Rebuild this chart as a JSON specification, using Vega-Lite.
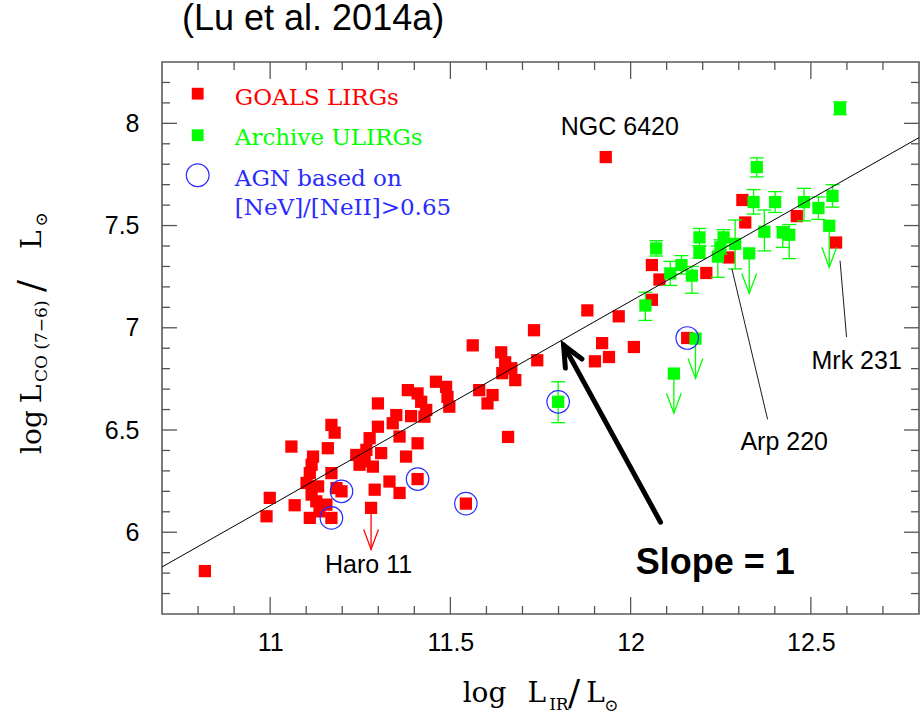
{
  "$schema": "https://vega.github.io/schema/vega-lite/v6.json",
  "width": 757,
  "height": 552,
  "autosize": {"type": "none"},
  "padding": {"left": 162, "top": 62, "right": 1, "bottom": 103},
  "background": "white",
  "config": {"view": {"stroke": "#5a5a5a", "strokeWidth": 1.6}},
  "title": {"text": "(Lu et al. 2014a)", "anchor": "start", "frame": "group", "font": "Liberation Sans", "fontSize": 36, "fontWeight": "normal", "color": "#000000", "dx": 20, "offset": -7, "baseline": "alphabetic"},
  "datasets": {
    "pts": [
      {"s": "GOALS LIRGs", "x": 10.819, "y": 5.810},
      {"s": "GOALS LIRGs", "x": 10.990, "y": 6.078},
      {"s": "GOALS LIRGs", "x": 10.999, "y": 6.168},
      {"s": "GOALS LIRGs", "x": 11.059, "y": 6.419},
      {"s": "GOALS LIRGs", "x": 11.068, "y": 6.132},
      {"s": "GOALS LIRGs", "x": 11.110, "y": 6.070},
      {"s": "GOALS LIRGs", "x": 11.119, "y": 6.370},
      {"s": "GOALS LIRGs", "x": 11.115, "y": 6.330},
      {"s": "GOALS LIRGs", "x": 11.110, "y": 6.289},
      {"s": "GOALS LIRGs", "x": 11.101, "y": 6.241},
      {"s": "GOALS LIRGs", "x": 11.133, "y": 6.224},
      {"s": "GOALS LIRGs", "x": 11.115, "y": 6.184},
      {"s": "GOALS LIRGs", "x": 11.128, "y": 6.151},
      {"s": "GOALS LIRGs", "x": 11.156, "y": 6.135},
      {"s": "GOALS LIRGs", "x": 11.137, "y": 6.102},
      {"s": "GOALS LIRGs", "x": 11.170, "y": 6.070, "agn": true},
      {"s": "GOALS LIRGs", "x": 11.170, "y": 6.525},
      {"s": "GOALS LIRGs", "x": 11.179, "y": 6.487},
      {"s": "GOALS LIRGs", "x": 11.160, "y": 6.411},
      {"s": "GOALS LIRGs", "x": 11.170, "y": 6.289},
      {"s": "GOALS LIRGs", "x": 11.184, "y": 6.216},
      {"s": "GOALS LIRGs", "x": 11.198, "y": 6.200, "agn": true},
      {"s": "GOALS LIRGs", "x": 11.239, "y": 6.378},
      {"s": "GOALS LIRGs", "x": 11.267, "y": 6.403},
      {"s": "GOALS LIRGs", "x": 11.262, "y": 6.346},
      {"s": "GOALS LIRGs", "x": 11.248, "y": 6.330},
      {"s": "GOALS LIRGs", "x": 11.285, "y": 6.321},
      {"s": "GOALS LIRGs", "x": 11.276, "y": 6.460},
      {"s": "GOALS LIRGs", "x": 11.290, "y": 6.208},
      {"s": "GOALS LIRGs", "x": 11.280, "y": 6.119, "lim": 5.916},
      {"s": "GOALS LIRGs", "x": 11.299, "y": 6.630},
      {"s": "GOALS LIRGs", "x": 11.299, "y": 6.516},
      {"s": "GOALS LIRGs", "x": 11.308, "y": 6.387},
      {"s": "GOALS LIRGs", "x": 11.331, "y": 6.248},
      {"s": "GOALS LIRGs", "x": 11.350, "y": 6.573},
      {"s": "GOALS LIRGs", "x": 11.340, "y": 6.533},
      {"s": "GOALS LIRGs", "x": 11.359, "y": 6.468},
      {"s": "GOALS LIRGs", "x": 11.359, "y": 6.192},
      {"s": "GOALS LIRGs", "x": 11.382, "y": 6.695},
      {"s": "GOALS LIRGs", "x": 11.391, "y": 6.568},
      {"s": "GOALS LIRGs", "x": 11.377, "y": 6.370},
      {"s": "GOALS LIRGs", "x": 11.409, "y": 6.679},
      {"s": "GOALS LIRGs", "x": 11.409, "y": 6.435},
      {"s": "GOALS LIRGs", "x": 11.409, "y": 6.260, "agn": true},
      {"s": "GOALS LIRGs", "x": 11.419, "y": 6.638},
      {"s": "GOALS LIRGs", "x": 11.433, "y": 6.598},
      {"s": "GOALS LIRGs", "x": 11.428, "y": 6.565},
      {"s": "GOALS LIRGs", "x": 11.460, "y": 6.736},
      {"s": "GOALS LIRGs", "x": 11.488, "y": 6.711},
      {"s": "GOALS LIRGs", "x": 11.492, "y": 6.662},
      {"s": "GOALS LIRGs", "x": 11.497, "y": 6.614},
      {"s": "GOALS LIRGs", "x": 11.543, "y": 6.140, "agn": true},
      {"s": "GOALS LIRGs", "x": 11.562, "y": 6.914},
      {"s": "GOALS LIRGs", "x": 11.580, "y": 6.695},
      {"s": "GOALS LIRGs", "x": 11.617, "y": 6.671},
      {"s": "GOALS LIRGs", "x": 11.603, "y": 6.630},
      {"s": "GOALS LIRGs", "x": 11.641, "y": 6.880},
      {"s": "GOALS LIRGs", "x": 11.652, "y": 6.831},
      {"s": "GOALS LIRGs", "x": 11.644, "y": 6.778},
      {"s": "GOALS LIRGs", "x": 11.669, "y": 6.802},
      {"s": "GOALS LIRGs", "x": 11.680, "y": 6.744},
      {"s": "GOALS LIRGs", "x": 11.660, "y": 6.466},
      {"s": "GOALS LIRGs", "x": 11.732, "y": 6.988},
      {"s": "GOALS LIRGs", "x": 11.741, "y": 6.841},
      {"s": "GOALS LIRGs", "x": 11.880, "y": 7.085},
      {"s": "GOALS LIRGs", "x": 11.921, "y": 6.925},
      {"s": "GOALS LIRGs", "x": 11.901, "y": 6.836},
      {"s": "GOALS LIRGs", "x": 11.940, "y": 6.857},
      {"s": "GOALS LIRGs", "x": 11.931, "y": 7.835},
      {"s": "GOALS LIRGs", "x": 11.967, "y": 7.056},
      {"s": "GOALS LIRGs", "x": 12.009, "y": 6.906},
      {"s": "GOALS LIRGs", "x": 12.059, "y": 7.137},
      {"s": "GOALS LIRGs", "x": 12.059, "y": 7.307},
      {"s": "GOALS LIRGs", "x": 12.080, "y": 7.236},
      {"s": "GOALS LIRGs", "x": 12.157, "y": 6.950, "agn": true},
      {"s": "GOALS LIRGs", "x": 12.210, "y": 7.268},
      {"s": "GOALS LIRGs", "x": 12.272, "y": 7.344},
      {"s": "GOALS LIRGs", "x": 12.318, "y": 7.515},
      {"s": "GOALS LIRGs", "x": 12.310, "y": 7.625},
      {"s": "GOALS LIRGs", "x": 12.461, "y": 7.546},
      {"s": "GOALS LIRGs", "x": 12.570, "y": 7.417},
      {"s": "Archive ULIRGs", "x": 12.581, "y": 8.074, "lo": 8.042, "hi": 8.105},
      {"s": "Archive ULIRGs", "x": 12.350, "y": 7.786, "lo": 7.738, "hi": 7.831},
      {"s": "Archive ULIRGs", "x": 12.341, "y": 7.615, "lo": 7.556, "hi": 7.676},
      {"s": "Archive ULIRGs", "x": 12.401, "y": 7.615, "lo": 7.564, "hi": 7.666},
      {"s": "Archive ULIRGs", "x": 12.481, "y": 7.615, "lo": 7.523, "hi": 7.682},
      {"s": "Archive ULIRGs", "x": 12.560, "y": 7.645, "lo": 7.590, "hi": 7.700},
      {"s": "Archive ULIRGs", "x": 12.551, "y": 7.499, "lim": 7.296},
      {"s": "Archive ULIRGs", "x": 12.521, "y": 7.586, "lo": 7.530, "hi": 7.640},
      {"s": "Archive ULIRGs", "x": 12.371, "y": 7.470, "lo": 7.376, "hi": 7.576},
      {"s": "Archive ULIRGs", "x": 12.422, "y": 7.466, "lo": 7.393, "hi": 7.494},
      {"s": "Archive ULIRGs", "x": 12.440, "y": 7.455, "lo": 7.338, "hi": 7.505},
      {"s": "Archive ULIRGs", "x": 12.290, "y": 7.410, "lo": 7.288, "hi": 7.527},
      {"s": "Archive ULIRGs", "x": 12.258, "y": 7.442, "lo": 7.400, "hi": 7.480},
      {"s": "Archive ULIRGs", "x": 12.191, "y": 7.442, "lo": 7.401, "hi": 7.486},
      {"s": "Archive ULIRGs", "x": 12.191, "y": 7.369, "lo": 7.340, "hi": 7.400},
      {"s": "Archive ULIRGs", "x": 12.249, "y": 7.393, "lo": 7.360, "hi": 7.430},
      {"s": "Archive ULIRGs", "x": 12.242, "y": 7.348, "lo": 7.247, "hi": 7.400},
      {"s": "Archive ULIRGs", "x": 12.329, "y": 7.364, "lim": 7.168},
      {"s": "Archive ULIRGs", "x": 12.141, "y": 7.307, "lo": 7.263, "hi": 7.353},
      {"s": "Archive ULIRGs", "x": 12.110, "y": 7.266, "lo": 7.207, "hi": 7.325},
      {"s": "Archive ULIRGs", "x": 12.170, "y": 7.255, "lo": 7.169, "hi": 7.300},
      {"s": "Archive ULIRGs", "x": 12.071, "y": 7.388, "lo": 7.351, "hi": 7.426},
      {"s": "Archive ULIRGs", "x": 12.041, "y": 7.109, "lo": 7.036, "hi": 7.174},
      {"s": "Archive ULIRGs", "x": 12.180, "y": 6.947, "lim": 6.752},
      {"s": "Archive ULIRGs", "x": 12.120, "y": 6.776, "lim": 6.582},
      {"s": "Archive ULIRGs", "x": 11.799, "y": 6.638, "lo": 6.536, "hi": 6.736, "agn": true}
    ],
    "xt": [
      {"v": 10.8, "k": "minor"}, {"v": 10.9, "k": "minor"}, {"v": 11.0, "k": "major"}, {"v": 11.1, "k": "minor"},
      {"v": 11.2, "k": "minor"}, {"v": 11.3, "k": "minor"}, {"v": 11.4, "k": "minor"}, {"v": 11.5, "k": "major"},
      {"v": 11.6, "k": "minor"}, {"v": 11.7, "k": "minor"}, {"v": 11.8, "k": "minor"}, {"v": 11.9, "k": "minor"},
      {"v": 12.0, "k": "major"}, {"v": 12.1, "k": "minor"}, {"v": 12.2, "k": "minor"}, {"v": 12.3, "k": "minor"},
      {"v": 12.4, "k": "minor"}, {"v": 12.5, "k": "major"}, {"v": 12.6, "k": "minor"}, {"v": 12.7, "k": "minor"}
    ],
    "yt": [
      {"v": 5.7, "k": "minor"}, {"v": 5.8, "k": "minor"}, {"v": 5.9, "k": "minor"}, {"v": 6.0, "k": "major"},
      {"v": 6.1, "k": "minor"}, {"v": 6.2, "k": "minor"}, {"v": 6.3, "k": "minor"}, {"v": 6.4, "k": "minor"},
      {"v": 6.5, "k": "major"}, {"v": 6.6, "k": "minor"}, {"v": 6.7, "k": "minor"}, {"v": 6.8, "k": "minor"},
      {"v": 6.9, "k": "minor"}, {"v": 7.0, "k": "major"}, {"v": 7.1, "k": "minor"}, {"v": 7.2, "k": "minor"},
      {"v": 7.3, "k": "minor"}, {"v": 7.4, "k": "minor"}, {"v": 7.5, "k": "major"}, {"v": 7.6, "k": "minor"},
      {"v": 7.7, "k": "minor"}, {"v": 7.8, "k": "minor"}, {"v": 7.9, "k": "minor"}, {"v": 8.0, "k": "major"},
      {"v": 8.1, "k": "minor"}, {"v": 8.2, "k": "minor"}
    ],
    "fit": [{"x": 10.7, "y": 5.83, "x2": 12.8, "y2": 7.93}],
    "leaders": [
      {"x": 12.281, "y": 7.288, "x2": 12.380, "y2": 6.552},
      {"x": 12.581, "y": 7.328, "x2": 12.599, "y2": 6.955}
    ],
    "names": [
      {"t": "NGC 6420", "x": 11.970, "y": 7.945},
      {"t": "Mrk 231", "x": 12.627, "y": 6.80},
      {"t": "Arp 220", "x": 12.426, "y": 6.40},
      {"t": "Haro 11", "x": 11.273, "y": 5.802}
    ],
    "slope": [{"t": "Slope = 1", "x": 12.235, "y": 5.794}],
    "arrow": [{"x": 12.083, "y": 6.049, "x2": 11.814, "y2": 6.915}],
    "legsym": [
      {"k": "GOALS LIRGs", "x": 10.799, "y": 8.145},
      {"k": "Archive ULIRGs", "x": 10.799, "y": 7.942}
    ],
    "legcirc": [{"x": 10.799, "y": 7.746}],
    "legtext": [
      {"t": "GOALS LIRGs", "k": "GOALS LIRGs", "x": 10.902, "y": 8.092},
      {"t": "Archive ULIRGs", "k": "Archive ULIRGs", "x": 10.902, "y": 7.892},
      {"t": "AGN based on", "k": "AGN", "x": 10.902, "y": 7.694},
      {"t": "[NeV]/[NeII]>0.65", "k": "AGN", "x": 10.902, "y": 7.552}
    ],
    "xtitle": [
      {"t": "log", "x": 11.534, "y": 5.169},
      {"t": "L", "x": 11.714, "y": 5.169},
      {"t": "L", "x": 11.877, "y": 5.169}
    ],
    "xslash": [{"t": "/", "x": 11.826, "y": 5.155}],
    "xtitlesub": [
      {"t": "IR", "x": 11.774, "y": 5.130},
      {"t": "⊙", "x": 11.927, "y": 5.125}
    ],
    "ytitle": [
      {"t": "log", "x": 10.363, "y": 6.383},
      {"t": "L", "x": 10.363, "y": 6.631},
      {"t": "L", "x": 10.363, "y": 7.385}
    ],
    "yslash": [{"t": "/", "x": 10.370, "y": 7.175}],
    "ytitlesub": [
      {"t": "CO (7−6)", "x": 10.381, "y": 6.735},
      {"t": "⊙", "x": 10.381, "y": 7.495}
    ]
  },
  "layer": [
    {
      "data": {"name": "pts"},
      "transform": [{"filter": "datum.s == 'GOALS LIRGs'"}],
      "mark": {"type": "point", "shape": "square", "size": 150, "filled": true, "fill": "#ff0000", "opacity": 1, "strokeWidth": 0},
      "encoding": {
        "x": {"field": "x", "type": "quantitative", "scale": {"domain": [10.7, 12.8], "nice": false, "zero": false},
          "axis": {"orient": "bottom", "title": null, "values": [11, 11.5, 12, 12.5],
            "format": "~g", "labelOverlap": false, "labelFlush": false, "labelBound": false, "grid": false, "domain": false,
            "ticks": true, "tickSize": 8, "offset": -8, "tickOpacity": 0,
            "labelFont": "Liberation Sans", "labelFontSize": 25, "labelColor": "#000000", "labelPadding": 16}},
        "y": {"field": "y", "type": "quantitative", "scale": {"domain": [5.6, 8.3], "nice": false, "zero": false},
          "axis": {"orient": "left", "title": null, "values": [6, 6.5, 7, 7.5, 8],
            "format": "~g", "labelOverlap": false, "labelFlush": false, "labelBound": false, "grid": false, "domain": false,
            "ticks": true, "tickSize": 8, "offset": -8, "tickOpacity": 0,
            "labelFont": "Liberation Sans", "labelFontSize": 25, "labelColor": "#000000", "labelPadding": 23}}
      }
    },
    {
      "data": {"name": "xt"},
      "transform": [{"filter": "datum.k == 'minor'"}],
      "mark": {"type": "point", "shape": "M0,0L0,-1", "size": 256, "filled": false, "stroke": "#555555", "strokeWidth": 1.3, "opacity": 1},
      "encoding": {
        "x": {"field": "v", "type": "quantitative", "scale": {"domain": [10.7, 12.8], "nice": false, "zero": false}},
        "y": {"datum": 5.6, "type": "quantitative", "scale": {"domain": [5.6, 8.3], "nice": false, "zero": false}}
      }
    },
    {
      "data": {"name": "xt"},
      "transform": [{"filter": "datum.k == 'major'"}],
      "mark": {"type": "point", "shape": "M0,0L0,-1", "size": 1156, "filled": false, "stroke": "#555555", "strokeWidth": 1.3, "opacity": 1},
      "encoding": {
        "x": {"field": "v", "type": "quantitative", "scale": {"domain": [10.7, 12.8], "nice": false, "zero": false}},
        "y": {"datum": 5.6, "type": "quantitative", "scale": {"domain": [5.6, 8.3], "nice": false, "zero": false}}
      }
    },
    {
      "data": {"name": "xt"},
      "transform": [{"filter": "datum.k == 'minor'"}],
      "mark": {"type": "point", "shape": "M0,0L0,1", "size": 256, "filled": false, "stroke": "#555555", "strokeWidth": 1.3, "opacity": 1},
      "encoding": {
        "x": {"field": "v", "type": "quantitative", "scale": {"domain": [10.7, 12.8], "nice": false, "zero": false}},
        "y": {"datum": 8.3, "type": "quantitative", "scale": {"domain": [5.6, 8.3], "nice": false, "zero": false}}
      }
    },
    {
      "data": {"name": "xt"},
      "transform": [{"filter": "datum.k == 'major'"}],
      "mark": {"type": "point", "shape": "M0,0L0,1", "size": 1156, "filled": false, "stroke": "#555555", "strokeWidth": 1.3, "opacity": 1},
      "encoding": {
        "x": {"field": "v", "type": "quantitative", "scale": {"domain": [10.7, 12.8], "nice": false, "zero": false}},
        "y": {"datum": 8.3, "type": "quantitative", "scale": {"domain": [5.6, 8.3], "nice": false, "zero": false}}
      }
    },
    {
      "data": {"name": "yt"},
      "transform": [{"filter": "datum.k == 'minor'"}],
      "mark": {"type": "point", "shape": "M0,0L1,0", "size": 256, "filled": false, "stroke": "#555555", "strokeWidth": 1.3, "opacity": 1},
      "encoding": {
        "x": {"datum": 10.7, "type": "quantitative", "scale": {"domain": [10.7, 12.8], "nice": false, "zero": false}},
        "y": {"field": "v", "type": "quantitative", "scale": {"domain": [5.6, 8.3], "nice": false, "zero": false}}
      }
    },
    {
      "data": {"name": "yt"},
      "transform": [{"filter": "datum.k == 'major'"}],
      "mark": {"type": "point", "shape": "M0,0L1,0", "size": 900, "filled": false, "stroke": "#555555", "strokeWidth": 1.3, "opacity": 1},
      "encoding": {
        "x": {"datum": 10.7, "type": "quantitative", "scale": {"domain": [10.7, 12.8], "nice": false, "zero": false}},
        "y": {"field": "v", "type": "quantitative", "scale": {"domain": [5.6, 8.3], "nice": false, "zero": false}}
      }
    },
    {
      "data": {"name": "yt"},
      "transform": [{"filter": "datum.k == 'minor'"}],
      "mark": {"type": "point", "shape": "M0,0L-1,0", "size": 256, "filled": false, "stroke": "#555555", "strokeWidth": 1.3, "opacity": 1},
      "encoding": {
        "x": {"datum": 12.8, "type": "quantitative", "scale": {"domain": [10.7, 12.8], "nice": false, "zero": false}},
        "y": {"field": "v", "type": "quantitative", "scale": {"domain": [5.6, 8.3], "nice": false, "zero": false}}
      }
    },
    {
      "data": {"name": "yt"},
      "transform": [{"filter": "datum.k == 'major'"}],
      "mark": {"type": "point", "shape": "M0,0L-1,0", "size": 900, "filled": false, "stroke": "#555555", "strokeWidth": 1.3, "opacity": 1},
      "encoding": {
        "x": {"datum": 12.8, "type": "quantitative", "scale": {"domain": [10.7, 12.8], "nice": false, "zero": false}},
        "y": {"field": "v", "type": "quantitative", "scale": {"domain": [5.6, 8.3], "nice": false, "zero": false}}
      }
    },
    {
      "data": {"name": "pts"},
      "transform": [{"filter": "isValid(datum.lo)"}],
      "mark": {"type": "rule", "stroke": "#00ff00", "strokeWidth": 1.3},
      "encoding": {
        "x": {"field": "x", "type": "quantitative", "scale": {"domain": [10.7, 12.8], "nice": false, "zero": false}},
        "y": {"field": "lo", "type": "quantitative", "scale": {"domain": [5.6, 8.3], "nice": false, "zero": false}},
        "y2": {"field": "hi"}
      }
    },
    {
      "data": {"name": "pts"},
      "transform": [{"filter": "isValid(datum.lo)"}],
      "mark": {"type": "point", "shape": "M-1,0L1,0", "size": 196, "filled": false, "stroke": "#00ff00", "strokeWidth": 1.3, "opacity": 1},
      "encoding": {
        "x": {"field": "x", "type": "quantitative", "scale": {"domain": [10.7, 12.8], "nice": false, "zero": false}},
        "y": {"field": "lo", "type": "quantitative", "scale": {"domain": [5.6, 8.3], "nice": false, "zero": false}}
      }
    },
    {
      "data": {"name": "pts"},
      "transform": [{"filter": "isValid(datum.hi)"}],
      "mark": {"type": "point", "shape": "M-1,0L1,0", "size": 196, "filled": false, "stroke": "#00ff00", "strokeWidth": 1.3, "opacity": 1},
      "encoding": {
        "x": {"field": "x", "type": "quantitative", "scale": {"domain": [10.7, 12.8], "nice": false, "zero": false}},
        "y": {"field": "hi", "type": "quantitative", "scale": {"domain": [5.6, 8.3], "nice": false, "zero": false}}
      }
    },
    {
      "data": {"name": "pts"},
      "transform": [{"filter": "isValid(datum.lim)"}],
      "mark": {"type": "rule", "strokeWidth": 1.3},
      "encoding": {
        "x": {"field": "x", "type": "quantitative", "scale": {"domain": [10.7, 12.8], "nice": false, "zero": false}},
        "y": {"field": "y", "type": "quantitative", "scale": {"domain": [5.6, 8.3], "nice": false, "zero": false}},
        "y2": {"field": "lim"},
        "color": {"field": "s", "type": "nominal", "scale": {"domain": ["GOALS LIRGs", "Archive ULIRGs", "AGN"], "range": ["#ff0000", "#00ff00", "#2a2aff"]}, "legend": null}
      }
    },
    {
      "data": {"name": "pts"},
      "transform": [{"filter": "isValid(datum.lim)"}],
      "mark": {"type": "point", "shape": "M-0.37,-1L0,0L0.37,-1", "size": 1600, "filled": false, "strokeWidth": 1.3, "opacity": 1},
      "encoding": {
        "x": {"field": "x", "type": "quantitative", "scale": {"domain": [10.7, 12.8], "nice": false, "zero": false}},
        "y": {"field": "lim", "type": "quantitative", "scale": {"domain": [5.6, 8.3], "nice": false, "zero": false}},
        "color": {"field": "s", "type": "nominal", "scale": {"domain": ["GOALS LIRGs", "Archive ULIRGs", "AGN"], "range": ["#ff0000", "#00ff00", "#2a2aff"]}, "legend": null}
      }
    },
    {
      "data": {"name": "pts"},
      "transform": [{"filter": "datum.s == 'Archive ULIRGs'"}],
      "mark": {"type": "point", "shape": "square", "size": 150, "filled": true, "fill": "#00ff00", "opacity": 1, "strokeWidth": 0},
      "encoding": {
        "x": {"field": "x", "type": "quantitative", "scale": {"domain": [10.7, 12.8], "nice": false, "zero": false}},
        "y": {"field": "y", "type": "quantitative", "scale": {"domain": [5.6, 8.3], "nice": false, "zero": false}}
      }
    },
    {
      "data": {"name": "pts"},
      "transform": [{"filter": "datum.agn"}],
      "mark": {"type": "point", "shape": "circle", "size": 506, "filled": false, "stroke": "#2a2aff", "strokeWidth": 1.2, "opacity": 1},
      "encoding": {
        "x": {"field": "x", "type": "quantitative", "scale": {"domain": [10.7, 12.8], "nice": false, "zero": false}},
        "y": {"field": "y", "type": "quantitative", "scale": {"domain": [5.6, 8.3], "nice": false, "zero": false}}
      }
    },
    {
      "data": {"name": "fit"},
      "mark": {"type": "rule", "stroke": "#000000", "strokeWidth": 1},
      "encoding": {
        "x": {"field": "x", "type": "quantitative", "scale": {"domain": [10.7, 12.8], "nice": false, "zero": false}},
        "y": {"field": "y", "type": "quantitative", "scale": {"domain": [5.6, 8.3], "nice": false, "zero": false}},
        "x2": {"field": "x2"},
        "y2": {"field": "y2"}
      }
    },
    {
      "data": {"name": "leaders"},
      "mark": {"type": "rule", "stroke": "#000000", "strokeWidth": 0.9},
      "encoding": {
        "x": {"field": "x", "type": "quantitative", "scale": {"domain": [10.7, 12.8], "nice": false, "zero": false}},
        "y": {"field": "y", "type": "quantitative", "scale": {"domain": [5.6, 8.3], "nice": false, "zero": false}},
        "x2": {"field": "x2"},
        "y2": {"field": "y2"}
      }
    },
    {
      "data": {"name": "names"},
      "mark": {"type": "text", "font": "Liberation Sans", "fontSize": 25, "fill": "#000000", "align": "center", "baseline": "alphabetic"},
      "encoding": {
        "x": {"field": "x", "type": "quantitative", "scale": {"domain": [10.7, 12.8], "nice": false, "zero": false}},
        "y": {"field": "y", "type": "quantitative", "scale": {"domain": [5.6, 8.3], "nice": false, "zero": false}},
        "text": {"field": "t"}
      }
    },
    {
      "data": {"name": "slope"},
      "mark": {"type": "text", "font": "Liberation Sans", "fontSize": 36, "fontWeight": "bold", "fill": "#000000", "align": "center", "baseline": "alphabetic"},
      "encoding": {
        "x": {"field": "x", "type": "quantitative", "scale": {"domain": [10.7, 12.8], "nice": false, "zero": false}},
        "y": {"field": "y", "type": "quantitative", "scale": {"domain": [5.6, 8.3], "nice": false, "zero": false}},
        "text": {"field": "t"}
      }
    },
    {
      "data": {"name": "arrow"},
      "mark": {"type": "rule", "stroke": "#000000", "strokeWidth": 5, "strokeCap": "round"},
      "encoding": {
        "x": {"field": "x", "type": "quantitative", "scale": {"domain": [10.7, 12.8], "nice": false, "zero": false}},
        "y": {"field": "y", "type": "quantitative", "scale": {"domain": [5.6, 8.3], "nice": false, "zero": false}},
        "x2": {"field": "x2"},
        "y2": {"field": "y2"}
      }
    },
    {
      "data": {"name": "arrow"},
      "mark": {"type": "point", "shape": "M-0.45,1L0,0L0.45,1", "size": 1764, "angle": 331.3, "filled": false, "stroke": "#000000", "strokeWidth": 5, "strokeCap": "round", "strokeJoin": "miter", "opacity": 1},
      "encoding": {
        "x": {"field": "x2", "type": "quantitative", "scale": {"domain": [10.7, 12.8], "nice": false, "zero": false}},
        "y": {"field": "y2", "type": "quantitative", "scale": {"domain": [5.6, 8.3], "nice": false, "zero": false}}
      }
    },
    {
      "data": {"name": "legsym"},
      "mark": {"type": "point", "shape": "square", "size": 140, "filled": true, "opacity": 1, "strokeWidth": 0},
      "encoding": {
        "x": {"field": "x", "type": "quantitative", "scale": {"domain": [10.7, 12.8], "nice": false, "zero": false}},
        "y": {"field": "y", "type": "quantitative", "scale": {"domain": [5.6, 8.3], "nice": false, "zero": false}},
        "color": {"field": "k", "type": "nominal", "scale": {"domain": ["GOALS LIRGs", "Archive ULIRGs", "AGN"], "range": ["#ff0000", "#00ff00", "#2a2aff"]}, "legend": null}
      }
    },
    {
      "data": {"name": "legcirc"},
      "mark": {"type": "point", "shape": "circle", "size": 515, "filled": false, "stroke": "#2a2aff", "strokeWidth": 1.2, "opacity": 1},
      "encoding": {
        "x": {"field": "x", "type": "quantitative", "scale": {"domain": [10.7, 12.8], "nice": false, "zero": false}},
        "y": {"field": "y", "type": "quantitative", "scale": {"domain": [5.6, 8.3], "nice": false, "zero": false}}
      }
    },
    {
      "data": {"name": "legtext"},
      "mark": {"type": "text", "font": "DejaVu Serif", "fontSize": 23, "align": "left", "baseline": "alphabetic"},
      "encoding": {
        "x": {"field": "x", "type": "quantitative", "scale": {"domain": [10.7, 12.8], "nice": false, "zero": false}},
        "y": {"field": "y", "type": "quantitative", "scale": {"domain": [5.6, 8.3], "nice": false, "zero": false}},
        "text": {"field": "t"},
        "color": {"field": "k", "type": "nominal", "scale": {"domain": ["GOALS LIRGs", "Archive ULIRGs", "AGN"], "range": ["#ff0000", "#00ff00", "#2a2aff"]}, "legend": null}
      }
    },
    {
      "data": {"name": "xtitle"},
      "mark": {"type": "text", "font": "DejaVu Serif", "fontSize": 28, "fill": "#000000", "align": "left", "baseline": "alphabetic"},
      "encoding": {
        "x": {"field": "x", "type": "quantitative", "scale": {"domain": [10.7, 12.8], "nice": false, "zero": false}},
        "y": {"field": "y", "type": "quantitative", "scale": {"domain": [5.6, 8.3], "nice": false, "zero": false}},
        "text": {"field": "t"}
      }
    },
    {
      "data": {"name": "xslash"},
      "mark": {"type": "text", "font": "DejaVu Serif", "fontSize": 36, "fill": "#000000", "align": "left", "baseline": "alphabetic"},
      "encoding": {
        "x": {"field": "x", "type": "quantitative", "scale": {"domain": [10.7, 12.8], "nice": false, "zero": false}},
        "y": {"field": "y", "type": "quantitative", "scale": {"domain": [5.6, 8.3], "nice": false, "zero": false}},
        "text": {"field": "t"}
      }
    },
    {
      "data": {"name": "xtitlesub"},
      "mark": {"type": "text", "font": "DejaVu Serif", "fontSize": 17, "fill": "#000000", "align": "left", "baseline": "alphabetic"},
      "encoding": {
        "x": {"field": "x", "type": "quantitative", "scale": {"domain": [10.7, 12.8], "nice": false, "zero": false}},
        "y": {"field": "y", "type": "quantitative", "scale": {"domain": [5.6, 8.3], "nice": false, "zero": false}},
        "text": {"field": "t"}
      }
    },
    {
      "data": {"name": "ytitle"},
      "mark": {"type": "text", "font": "DejaVu Serif", "fontSize": 28, "fill": "#000000", "align": "left", "baseline": "alphabetic", "angle": 270},
      "encoding": {
        "x": {"field": "x", "type": "quantitative", "scale": {"domain": [10.7, 12.8], "nice": false, "zero": false}},
        "y": {"field": "y", "type": "quantitative", "scale": {"domain": [5.6, 8.3], "nice": false, "zero": false}},
        "text": {"field": "t"}
      }
    },
    {
      "data": {"name": "yslash"},
      "mark": {"type": "text", "font": "DejaVu Serif", "fontSize": 36, "fill": "#000000", "align": "left", "baseline": "alphabetic", "angle": 270},
      "encoding": {
        "x": {"field": "x", "type": "quantitative", "scale": {"domain": [10.7, 12.8], "nice": false, "zero": false}},
        "y": {"field": "y", "type": "quantitative", "scale": {"domain": [5.6, 8.3], "nice": false, "zero": false}},
        "text": {"field": "t"}
      }
    },
    {
      "data": {"name": "ytitlesub"},
      "mark": {"type": "text", "font": "DejaVu Serif", "fontSize": 17, "fill": "#000000", "align": "left", "baseline": "alphabetic", "angle": 270},
      "encoding": {
        "x": {"field": "x", "type": "quantitative", "scale": {"domain": [10.7, 12.8], "nice": false, "zero": false}},
        "y": {"field": "y", "type": "quantitative", "scale": {"domain": [5.6, 8.3], "nice": false, "zero": false}},
        "text": {"field": "t"}
      }
    }
  ]
}
